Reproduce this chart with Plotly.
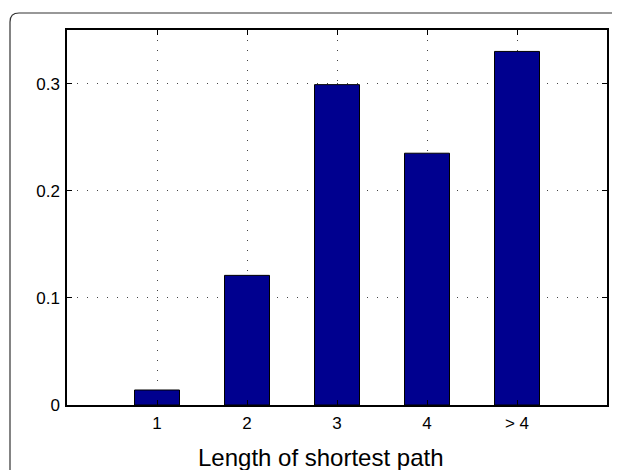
"""Bar chart: distribution of shortest path lengths."""

import plotly.graph_objects as go

# data
categories = [1, 2, 3, 4, 5]
tick_labels = ["1", "2", "3", "4", "> 4"]
fractions = [0.014, 0.121, 0.299, 0.235, 0.330]
y_ticks = [0, 0.1, 0.2, 0.3]
y_tick_labels = ["0", "0.1", "0.2", "0.3"]

BAR_COLOR = "#00008F"
FONT = "Liberation Sans, Arial, Helvetica, sans-serif"

fig = go.Figure(
    go.Bar(
        x=categories,
        y=fractions,
        width=0.5,
        marker=dict(color=BAR_COLOR, line=dict(color="black", width=1)),
    )
)

axis_common = dict(
    showline=True,
    linecolor="black",
    linewidth=1.5,
    mirror="ticks",
    ticks="inside",
    ticklen=5,
    tickwidth=1,
    tickcolor="black",
    showgrid=True,
    gridcolor="#444444",
    gridwidth=1,
    griddash="1px,9px",
    zeroline=False,
    tickfont=dict(family=FONT, size=17, color="black"),
)

fig.update_xaxes(
    range=[0, 6],
    tickvals=categories,
    ticktext=tick_labels,
    ticklabelstandoff=2,
    **axis_common,
)
fig.update_yaxes(
    range=[0, 0.35],
    tickvals=y_ticks,
    ticktext=y_tick_labels,
    ticklabelstandoff=2,
    **axis_common,
)

# the page body adds an 8px margin, so the figure is 8px smaller
# plot area on the page: x 67..607 px, y 30..405 px
W, H = 540.0, 375.0
x0, y0 = (10 - 67) / W, 1 + (30 - 13) / H
x1, y1 = (640 - 67) / W, (405 - 490) / H
rx, ry = 9 / W, 9 / H
frame = (
    f"M {x0},{y1} L {x0},{y0 - ry} Q {x0},{y0} {x0 + rx},{y0} "
    f"L {x1},{y0}"
)

fig.update_layout(
    width=612,
    height=462,
    margin=dict(l=59, r=13, t=22, b=65),
    paper_bgcolor="white",
    plot_bgcolor="white",
    showlegend=False,
    shapes=[
        dict(
            type="path",
            xref="paper",
            yref="paper",
            path=frame,
            line=dict(color="#333333", width=1.2),
            layer="below",
        )
    ],
    annotations=[
        dict(
            text="Length of shortest path",
            xref="paper",
            yref="paper",
            x=(321 - 67) / W,
            y=(405 - 457) / H,
            xanchor="center",
            yanchor="middle",
            showarrow=False,
            font=dict(family=FONT, size=24, color="black"),
        )
    ],
)

fig.write_html("out.html")
